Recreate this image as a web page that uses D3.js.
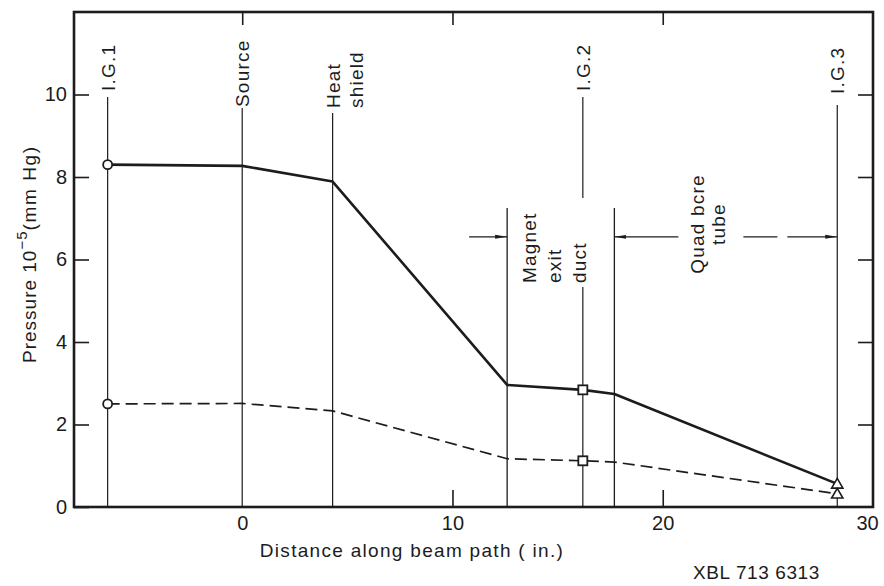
<!DOCTYPE html>
<html>
<head>
<meta charset="utf-8">
<script src="https://cdn.jsdelivr.net/npm/d3@7"></script>
<style>
  body { margin: 0; background: #fff; }
  svg { display: block; }
  text { font-family: "Liberation Sans", Arial, sans-serif; fill: #1c1c1c; }
</style>
</head>
<body>
<svg id="chart" width="884" height="586"></svg>
<script>
// Pressure along the beam line, measured at the ion gauges and interpolated
// at the component boundaries.
const xTickValues = [0, 10, 20, 30];
const yTickValues = [0, 2, 4, 6, 8, 10];
const stationNames = ["I.G.1", "Source", "Heat shield", "Magnet", "I.G.2", "Quad", "I.G.3"];
const stationX = [-6.4, 0, 4.3, 12.6, 16.2, 17.7, 28.3];
const pressureUpper = [8.3, 8.27, 7.89, 2.96, 2.84, 2.74, 0.56];
const pressureLower = [2.5, 2.51, 2.33, 1.17, 1.12, 1.09, 0.32];

// Labelled reference positions
const markerNames = ["I.G.1", "Source", "Heat|shield", "I.G.2", "I.G.3"];
const markerX = [-6.4, 0, 4.3, 16.2, 28.3];

// Component regions along the path
const magnetDuct = [12.6, 17.7];
const quadTube = [17.7, 28.3];
const regionArrowY = 6.55;

const svg = d3.select("#chart");
const ink = "#1c1c1c";

const x = d3.scaleLinear().domain([-8, 30]).range([74, 873]);
const y = d3.scaleLinear().domain([0, 12]).range([507, 12]);

// Axes: ticks point inward on all four sides
const yLeft = svg.append("g").attr("transform", `translate(${x(-8)},0)`)
  .call(d3.axisLeft(y).tickValues(yTickValues).tickSize(-15).tickSizeOuter(0).tickPadding(7));
const yRight = svg.append("g").attr("transform", `translate(${x(30)},0)`)
  .call(d3.axisRight(y).tickValues(yTickValues.filter(d => d > 0)).tickSize(-15).tickSizeOuter(0).tickFormat(""));
const xBottom = svg.append("g").attr("transform", `translate(0,${y(0)})`)
  .call(d3.axisBottom(x).tickValues(xTickValues).tickSize(-17).tickSizeOuter(0).tickPadding(9));
const xTop = svg.append("g").attr("transform", `translate(0,${y(12)})`)
  .call(d3.axisTop(x).tickValues(xTickValues.filter(d => d < 30)).tickSize(-13).tickSizeOuter(0).tickFormat(""));

[yLeft, yRight, xBottom, xTop].forEach(g => {
  g.select(".domain").remove();
  g.selectAll(".tick line").attr("stroke", ink).attr("stroke-width", 1.6);
  g.selectAll(".tick text").attr("fill", ink).style("font-size", "20px")
    .style("font-family", '"Liberation Sans", Arial, sans-serif');
});
xBottom.selectAll(".tick").filter(d => d === 0 || d === 30).select("line").remove();
xBottom.selectAll(".tick").filter(d => d === 30).select("text").attr("dx", -6);

// Plot frame
svg.append("rect")
  .attr("x", x(-8)).attr("y", y(12))
  .attr("width", x(30) - x(-8)).attr("height", y(0) - y(12))
  .attr("fill", "none").attr("stroke", ink).attr("stroke-width", 2.6);

// Vertical reference lines with rotated labels (text reads bottom to top)
const labelBottom = [91, 107, 108, 91, 94];
const lineTop = [97, 108, 113, 97, 105];
markerNames.forEach((name, i) => {
  const px = x(markerX[i]);
  if (name === "I.G.2") {
    // broken where the "duct" label sits
    svg.append("line").attr("x1", px).attr("x2", px).attr("y1", lineTop[i]).attr("y2", 198)
      .attr("stroke", ink).attr("stroke-width", 1.2);
    svg.append("line").attr("x1", px).attr("x2", px).attr("y1", 287).attr("y2", y(0))
      .attr("stroke", ink).attr("stroke-width", 1.2);
  } else {
    svg.append("line").attr("x1", px).attr("x2", px).attr("y1", lineTop[i]).attr("y2", y(0))
      .attr("stroke", ink).attr("stroke-width", 1.2);
  }
  const t = svg.append("text")
    .attr("transform", `translate(${px + 7},${labelBottom[i]}) rotate(-90)`)
    .attr("text-anchor", "start")
    .style("font-size", "19px").style("letter-spacing", "1.2px");
  name.split("|").forEach((line, j) => {
    t.append("tspan").attr("x", 0).attr("y", j * 23).text(line);
  });
});

// Region boundaries
[magnetDuct[0], magnetDuct[1]].forEach(v => {
  svg.append("line").attr("x1", x(v)).attr("x2", x(v)).attr("y1", 208).attr("y2", y(0))
    .attr("stroke", ink).attr("stroke-width", 1.3);
});

// Arrowheads
const defs = svg.append("defs");
defs.append("marker").attr("id", "arrow").attr("viewBox", "0 0 12 6")
  .attr("refX", 12).attr("refY", 3).attr("markerWidth", 12).attr("markerHeight", 6)
  .attr("markerUnits", "userSpaceOnUse").attr("orient", "auto")
  .append("path").attr("d", "M0,1 L12,3 L0,5 Z").attr("fill", ink);

const ay = y(regionArrowY);
// Magnet exit duct: arrow into the left boundary
svg.append("line").attr("x1", x(magnetDuct[0]) - 38).attr("x2", x(magnetDuct[0]))
  .attr("y1", ay).attr("y2", ay).attr("stroke", ink).attr("stroke-width", 1.3)
  .attr("marker-end", "url(#arrow)");
// Quad bore tube: arrows out to both ends, broken around the label
svg.append("line").attr("x1", x(quadTube[0]) + 64).attr("x2", x(quadTube[0]))
  .attr("y1", ay).attr("y2", ay).attr("stroke", ink).attr("stroke-width", 1.3)
  .attr("marker-end", "url(#arrow)");
svg.append("line").attr("x1", x(quadTube[0]) + 129).attr("x2", x(quadTube[0]) + 163)
  .attr("y1", ay).attr("y2", ay).attr("stroke", ink).attr("stroke-width", 1.3);
svg.append("line").attr("x1", x(quadTube[0]) + 173).attr("x2", x(quadTube[1]))
  .attr("y1", ay).attr("y2", ay).attr("stroke", ink).attr("stroke-width", 1.3)
  .attr("marker-end", "url(#arrow)");

// Region labels
const magLabel = svg.append("text")
  .attr("transform", `translate(${x(magnetDuct[0]) + 29},283) rotate(-90)`)
  .attr("text-anchor", "start").style("font-size", "19px").style("letter-spacing", "1.2px");
["Magnet", "exit", "duct"].forEach((s, j) => magLabel.append("tspan").attr("x", 0).attr("y", j * 25).text(s));
const quadLabel = svg.append("text")
  .attr("transform", `translate(${x(quadTube[0]) + 90},224) rotate(-90)`)
  .attr("text-anchor", "middle").style("font-size", "19px").style("letter-spacing", "1.2px");
["Quad bcre", "tube"].forEach((s, j) => quadLabel.append("tspan").attr("x", 0).attr("y", j * 21).text(s));

// Pressure curves
const upperPts = stationX.map((v, i) => [x(v), y(pressureUpper[i])]);
const lowerPts = stationX.map((v, i) => [x(v), y(pressureLower[i])]);
const line = d3.line();
svg.append("path").attr("d", line(upperPts)).attr("fill", "none")
  .attr("stroke", ink).attr("stroke-width", 2.6).attr("stroke-linejoin", "round");
svg.append("path").attr("d", line(lowerPts)).attr("fill", "none")
  .attr("stroke", ink).attr("stroke-width", 1.7).attr("stroke-dasharray", "12,6");

// Gauge readings
[upperPts, lowerPts].forEach(pts => {
  svg.append("circle").attr("cx", pts[0][0]).attr("cy", pts[0][1]).attr("r", 4.5)
    .attr("fill", "#fff").attr("stroke", ink).attr("stroke-width", 1.8);
  svg.append("rect").attr("x", pts[4][0] - 4.5).attr("y", pts[4][1] - 4.5)
    .attr("width", 9).attr("height", 9)
    .attr("fill", "#fff").attr("stroke", ink).attr("stroke-width", 1.8);
  svg.append("path").attr("d", d3.symbol(d3.symbolTriangle, 55)())
    .attr("transform", `translate(${pts[6][0]},${pts[6][1] + 1})`)
    .attr("fill", "#fff").attr("stroke", ink).attr("stroke-width", 1.6);
});

// Axis titles
svg.append("text").attr("x", 412).attr("y", 557).attr("text-anchor", "middle")
  .style("font-size", "19px").style("letter-spacing", "1.3px")
  .text("Distance along beam path ( in.)");

const yt = svg.append("text")
  .attr("transform", "translate(36,363) rotate(-90)")
  .attr("text-anchor", "start").style("font-size", "19px").style("letter-spacing", "1px");
yt.append("tspan").text("Pressure  10");
yt.append("tspan").attr("dy", -9).style("font-size", "15px").text("−5");
yt.append("tspan").attr("dy", 9).style("letter-spacing", "1.6px").text("(mm Hg)");

// Drawing number
svg.append("text").attr("x", 693).attr("y", 579).style("font-size", "19px")
  .style("letter-spacing", "0.6px")
  .text("XBL 713 6313");
</script>
</body>
</html>
